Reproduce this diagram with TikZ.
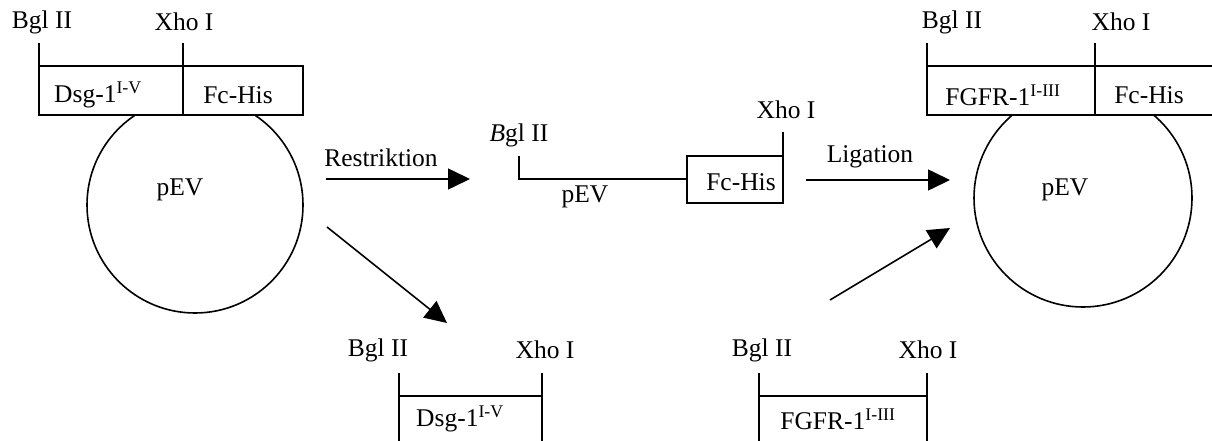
\documentclass[tikz,border=0pt]{standalone}
\usepackage{fontspec}
\setmainfont{Liberation Serif}
\usetikzlibrary{arrows.meta}
\begin{document}
\begin{tikzpicture}[x=1pt,y=-1pt,
  every node/.style={inner sep=0pt,font=\fontsize{25.5}{30}\selectfont},
  ln/.style={line width=1.6pt},
  arr/.style={line width=1.6pt,-{Triangle[length=22pt,width=21pt]}},
  lbl/.style={anchor=center}]
\useasboundingbox (0,0) rectangle (1212,441);
% ---------- left plasmid ----------
\draw[ln] (195,205) circle[radius=108];
\node[lbl] (pevL) at (180,190) {pEV};
\filldraw[ln,fill=white] (39,66) rectangle (303,115);
\draw[ln] (39,43) -- (39,66);
\draw[ln] (183,43) -- (183,115);
\node[lbl] (bglL) at (42,22) {Bgl II};
\node[lbl] (xhoL) at (184,22) {Xho I};
\node[lbl] (dsgL) at (98,95) {Dsg-1\textsuperscript{I-V}};
\node[lbl] (fcL) at (238,95) {Fc-His};
% ---------- right plasmid ----------
\draw[ln] (1083,198) circle[radius=109];
\node[lbl] (pevR) at (1065,190) {pEV};
\filldraw[ln,fill=white] (927,66) rectangle (1216,115);
\draw[ln] (927,43) -- (927,66);
\draw[ln] (1095,43) -- (1095,115);
\node[lbl] (bglR) at (952,22) {Bgl II};
\node[lbl] (xhoR) at (1121,22) {Xho I};
\node[lbl] (fgfrR) at (1003,95) {FGFR-1\textsuperscript{I-III}};
\node[lbl] (fcR) at (1149,95) {Fc-His};
% ---------- linearised vector ----------
\node[lbl] (bglM) at (519,135) {\textit{B}gl II};
\node[lbl] (xhoM) at (786,110) {Xho I};
\draw[ln] (519,156) -- (519,179) -- (687,179);
\draw[ln] (687,156) rectangle (783,203);
\draw[ln] (783,132) -- (783,156);
\node[lbl] (fcM) at (741,182) {Fc-His};
\node[lbl] (pevM) at (585,197) {pEV};
% ---------- arrows ----------
\coordinate (r1) at (326,179);
\coordinate (r2) at (470,179);
\draw[arr] (r1) -- (r2);
\node[lbl] (restr) at (381,158) {Restriktion};
\coordinate (l1) at (806,180);
\coordinate (l2) at (950,180);
\draw[arr] (l1) -- (l2);
\node[lbl] (lig) at (870,157) {Ligation};
\coordinate (d1) at (327,227);
\coordinate (d2) at (447,323);
\draw[arr] (d1) -- (d2);
\coordinate (u1) at (830,300);
\coordinate (u2) at (950,228);
\draw[arr] (u1) -- (u2);
% ---------- fragment Dsg ----------
\node[lbl] (bglD) at (378,350) {Bgl II};
\node[lbl] (xhoD) at (545,350) {Xho I};
\draw[ln] (399,373) -- (399,441);
\draw[ln] (542,373) -- (542,441);
\draw[ln] (399,396) -- (542,396);
\node[lbl] (dsgD) at (460,419) {Dsg-1\textsuperscript{I-V}};
% ---------- fragment FGFR ----------
\node[lbl] (bglF) at (762,350) {Bgl II};
\node[lbl] (xhoF) at (928,350) {Xho I};
\draw[ln] (759,373) -- (759,441);
\draw[ln] (927,373) -- (927,441);
\draw[ln] (759,396) -- (927,396);
\node[lbl] (fgfrF) at (838,419) {FGFR-1\textsuperscript{I-III}};
\end{tikzpicture}
\end{document}
